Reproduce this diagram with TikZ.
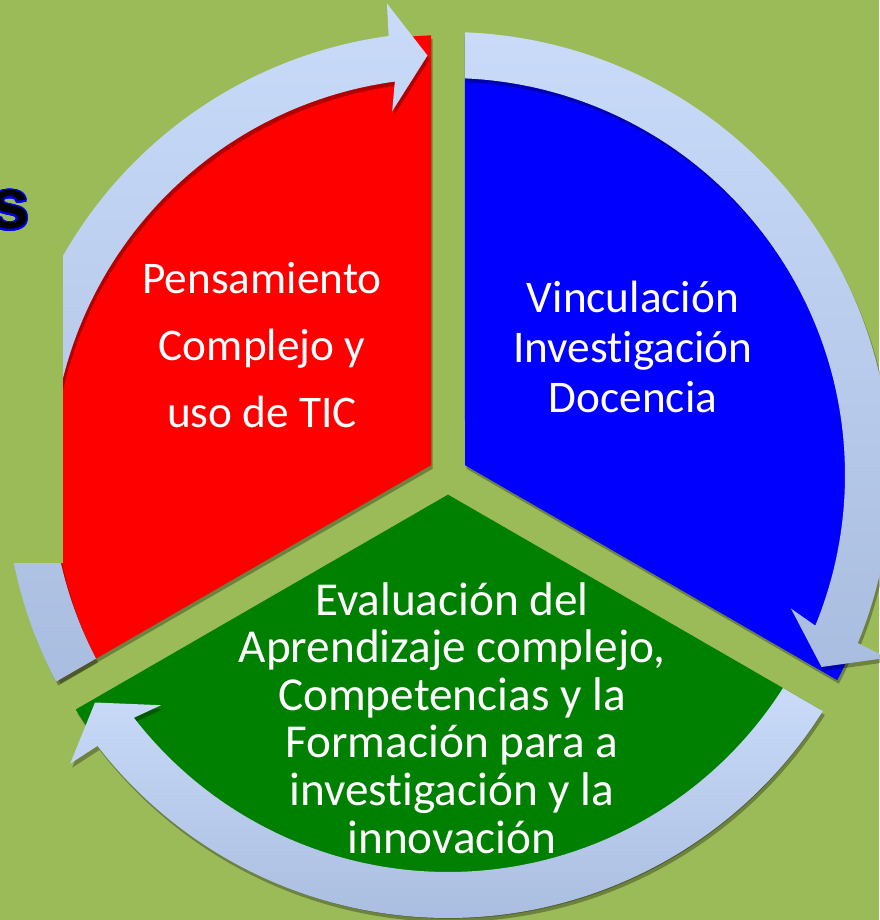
\documentclass[tikz,border=0pt]{standalone}
\usepackage{fontspec}
\usepackage{contour}
\setmainfont{Carlito}[Ligatures=NoCommon]
\newfontfamily\arialbold{Liberation Sans}
\usetikzlibrary{shadows}
\definecolor{slidegreen}{RGB}{155,187,89}
\definecolor{ringtop}{RGB}{201,219,249}
\definecolor{ringbot}{RGB}{169,189,224}
\definecolor{wedgegreen}{RGB}{0,128,0}
\contourlength{1.1pt}

\begin{document}
\begin{tikzpicture}[x=0.25mm, y=0.25mm]
 				 \tikzstyle{wedge}=[draw=none, drop shadow={shadow xshift=0.4mm, shadow yshift=-0.9mm, fill=black, opacity=0.3}]
 				 \tikzstyle{ring}=[draw=none, top color=ringtop, bottom color=ringbot, drop shadow={shadow xshift=0.5mm, shadow yshift=-1mm, fill=black, opacity=0.3}]
 				 \tikzstyle{label}=[text=white, align=center, inner sep=0pt]
					\fill[slidegreen] (-448,-445) rectangle (431,475);
					\useasboundingbox (-448,-445) rectangle (431,475);
					% three sectors, gaps 34 wide
					\fill[wedge, red]   (150:19.63) -- (92.21:440) arc[start angle=92.21, end angle=207.79, radius=440] -- cycle;
					\fill[wedge, blue]  (30:19.63) -- (87.79:440) arc[start angle=87.79, end angle=-27.79, radius=440] -- cycle;
					\fill[wedge, wedgegreen] (-90:19.63) -- (-32.21:440) arc[start angle=-32.21, end angle=-147.79, radius=440] -- cycle;
					% circular arrows
					\foreach \t in {210,90,-30}
					  \path[ring] ({\t-2.2}:443) arc[start angle={\t-2.2}, end angle={\t-112.3}, radius=443]
					    -- ([shift={({\t-27.2}:38)}]{\t-117.2}:474) -- ({\t-117.2}:420)
					    -- ([shift={({\t-27.2}:38)}]{\t-117.2}:366) -- ({\t-112.3}:397)
					    arc[start angle={\t-112.3}, end angle={\t-2.45}, radius=397] -- cycle;
					\fill[slidegreen] (-448,475) rectangle (-385,-88);
 					 \node[inner sep=0pt, anchor=base east, font=\arialbold\bfseries\fontsize{50.6}{60}\selectfont] (S) at (-418,246) {\contour{blue}{s}};
 					 \node[label, font=\fontsize{32.2}{47.6}\selectfont] (A) at (-186,130) {Pensamiento\\Complejo y\\uso de TIC};
 					 \node[label, font=\fontsize{32.2}{35.5}\selectfont] (B) at (185,128) {Vinculación\\Investigación\\Docencia};
 					 \node[label, font=\fontsize{33.6}{33.8}\selectfont] (C) at (4,-243) {Evaluación del\\Aprendizaje complejo,\\Competencias y la\\Formación para a\\investigación y la\\innovación};
				\end{tikzpicture}
\end{document}
